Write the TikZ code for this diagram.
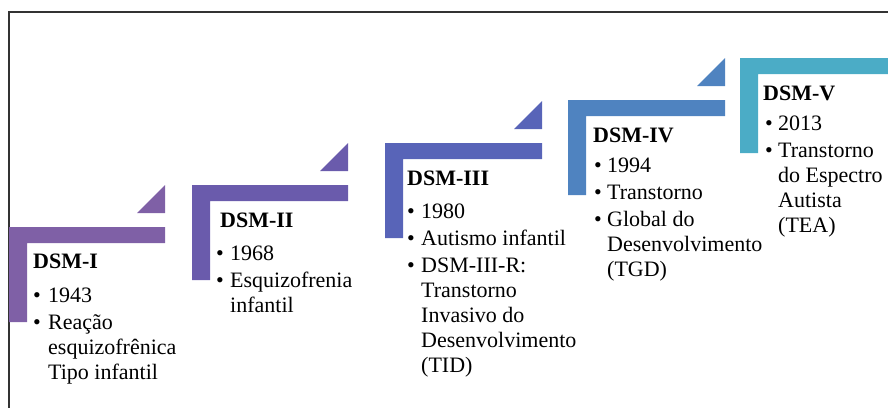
\documentclass[tikz,border=0pt]{standalone}
\usepackage{fontspec}
\setmainfont{Liberation Serif}

\definecolor{dsmone}{RGB}{127,96,166}
\definecolor{dsmtwo}{RGB}{106,91,172}
\definecolor{dsmthree}{RGB}{88,100,184}
\definecolor{dsmfour}{RGB}{79,131,192}
\definecolor{dsmfive}{RGB}{75,172,198}
\definecolor{framegray}{RGB}{51,51,51}

\tikzset{
  dsmtitle/.style={anchor=base west, inner sep=0pt, font=\fontsize{22}{25}\selectfont\bfseries},
  dsmlist/.style={anchor=base west, inner sep=0pt, font=\fontsize{22}{25}\selectfont},
}

\begin{document}
\begin{tikzpicture}[x=1pt,y=-1pt]
  \useasboundingbox (0,0) rectangle (888,407);
  \clip (0,0) rectangle (888,407);

  % Draw outer frame (only top and left edges are visible)
  \draw[framegray, line width=1.3pt] (9,420) -- (9,12) -- (900,12);

  % Draw step DSM-I
  \fill[dsmone] (9,227) -- (165,227) -- (165,243) -- (27,243) -- (27,322) -- (9,322) -- cycle;
  \fill[dsmone] (137,213) -- (165,185) -- (165,213) -- cycle;

  % Draw step DSM-II
  \fill[dsmtwo] (192,185) -- (348,185) -- (348,201) -- (210,201) -- (210,280) -- (192,280) -- cycle;
  \fill[dsmtwo] (320,171) -- (348,143) -- (348,171) -- cycle;

  % Draw step DSM-III
  \fill[dsmthree] (385,143) -- (542,143) -- (542,159) -- (403,159) -- (403,238) -- (385,238) -- cycle;
  \fill[dsmthree] (514,129) -- (542,101) -- (542,129) -- cycle;

  % Draw step DSM-IV
  \fill[dsmfour] (568,100) -- (725,100) -- (725,116) -- (586,116) -- (586,195) -- (568,195) -- cycle;
  \fill[dsmfour] (697,86) -- (725,58) -- (725,86) -- cycle;

  % Draw step DSM-V (runs out of the frame on the right)
  \fill[dsmfive] (740,58) -- (900,58) -- (900,74) -- (758,74) -- (758,153) -- (740,153) -- cycle;

  % Texts of DSM-I
  \node[dsmtitle] (titleI) at (33,268) {DSM-I};
  \node[dsmlist] (itemsI) at (33,302) {\begin{tabular}[t]{@{}p{15pt}@{}l@{}}
    \textbullet & 1943\\[2pt]
    \textbullet & Reação\\
                & esquizofrênica\\
                & Tipo infantil
  \end{tabular}};

  % Texts of DSM-II
  \node[dsmtitle] (titleII) at (220,227) {DSM-II};
  \node[dsmlist] (itemsII) at (216,260) {\begin{tabular}[t]{@{}p{14pt}@{}l@{}}
    \textbullet & 1968\\[2pt]
    \textbullet & Esquizofrenia\\
                & infantil
  \end{tabular}};

  % Texts of DSM-III
  \node[dsmtitle] (titleIII) at (407,185) {DSM-III};
  \node[dsmlist] (itemsIII) at (407,218) {\begin{tabular}[t]{@{}p{14pt}@{}l@{}}
    \textbullet & 1980\\[2pt]
    \textbullet & Autismo infantil\\[2pt]
    \textbullet & DSM-III-R:\\
                & Transtorno\\
                & Invasivo do\\
                & Desenvolvimento\\
                & (TID)
  \end{tabular}};

  % Texts of DSM-IV
  \node[dsmtitle] (titleIV) at (593,142) {DSM-IV};
  \node[dsmlist] (itemsIV) at (594,172) {\begin{tabular}[t]{@{}p{13pt}@{}l@{}}
    \textbullet & 1994\\[2pt]
    \textbullet & Transtorno\\[2pt]
    \textbullet & Global do\\
                & Desenvolvimento\\
                & (TGD)
  \end{tabular}};

  % Texts of DSM-V
  \node[dsmtitle] (titleV) at (763,100) {DSM-V};
  \node[dsmlist] (itemsV) at (765,130) {\begin{tabular}[t]{@{}p{13pt}@{}l@{}}
    \textbullet & 2013\\[2pt]
    \textbullet & Transtorno\\
                & do Espectro\\
                & Autista\\
                & (TEA)
  \end{tabular}};

\end{tikzpicture}
\end{document}
